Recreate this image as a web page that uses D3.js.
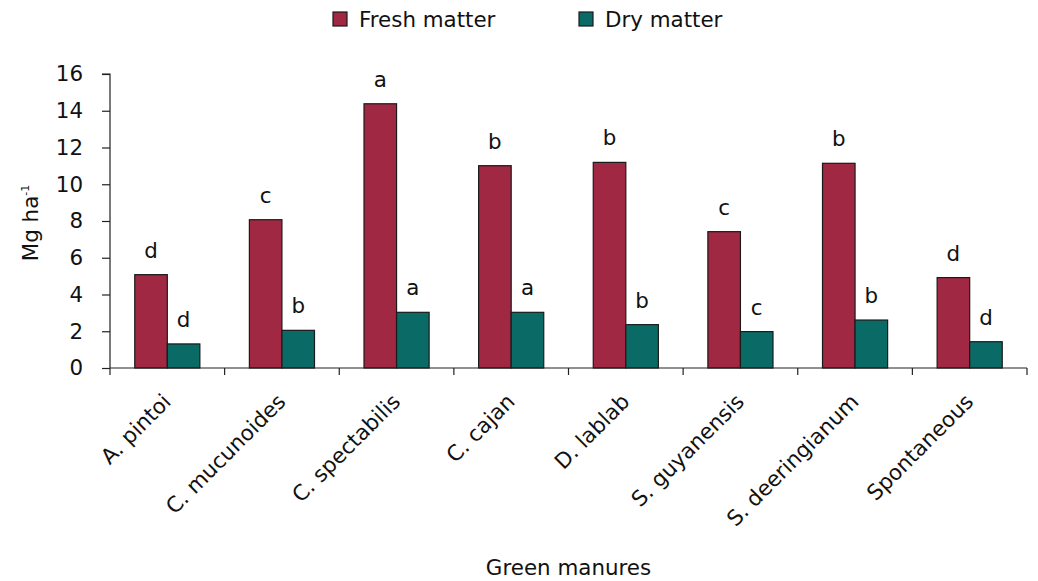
<!DOCTYPE html>
<html><head><meta charset="utf-8">
<script src="https://cdn.jsdelivr.net/npm/d3@7"></script>
<style>body{margin:0;background:#fff}svg{display:block;font-family:"DejaVu Sans",Verdana,sans-serif}</style>
</head><body><svg id="c" width="1038" height="581"></svg>
<script>
const categories = ["A. pintoi","C. mucunoides","C. spectabilis","C. cajan","D. lablab","S. guyanensis","S. deeringianum","Spontaneous"];
const seriesNames = ["Fresh matter","Dry matter"];
const freshValues = [5.08,8.07,14.38,11.01,11.19,7.42,11.14,4.92];
const dryValues = [1.31,2.05,3.03,3.03,2.36,1.98,2.61,1.43];
const freshLetters = ["d","c","a","b","b","c","b","d"];
const dryLetters = ["d","b","a","a","b","c","b","d"];
const yTicks = [0,2,4,6,8,10,12,14,16];
const colors = ["#A02842","#0A6B66"];

const svg = d3.select("#c");
const m = {l:110, r:1027, t:74, b:368};
const x = d3.scaleBand().domain(categories).range([m.l, m.r]).paddingInner(0).paddingOuter(0);
const y = d3.scaleLinear().domain([0,16]).range([m.b, m.t]);
const fs = 21.4;
const bw = x.bandwidth()*0.284;
const xs = d3.scaleBand().domain(seriesNames).range([x.bandwidth()/2 - bw, x.bandwidth()/2 + bw]);

// bars
const data = categories.map((c,i)=>({c, vals:[freshValues[i], dryValues[i]], letters:[freshLetters[i], dryLetters[i]]}));
const g = svg.append("g");
data.forEach(d=>{
  d.vals.forEach((v,j)=>{
    const bx = x(d.c) + xs(seriesNames[j]);
    g.append("rect").attr("x", bx).attr("y", y(v)).attr("width", xs.bandwidth()).attr("height", y(0)-y(v))
      .attr("fill", colors[j]).attr("stroke","#1a1a1a").attr("stroke-width",1.2);
    g.append("text").attr("x", bx + xs.bandwidth()/2).attr("y", y(v) - 17).attr("text-anchor","middle")
      .attr("font-size", fs).attr("fill","#111").text(d.letters[j]);
  });
});

// y axis
const ya = svg.append("g").attr("transform",`translate(${m.l},0)`)
  .call(d3.axisLeft(y).tickValues(yTicks).tickSize(8).tickPadding(19).tickFormat(d3.format("d")));
ya.select(".domain").attr("stroke","#222").attr("stroke-width",1.2).attr("d",`M-8,${m.t}H0V${m.b}`);
ya.selectAll(".tick line").attr("stroke","#222").attr("stroke-width",1.2);
ya.selectAll("text").attr("font-size",fs).attr("fill","#111").attr("font-family","DejaVu Sans");

// x axis
const xa = svg.append("g").attr("transform",`translate(0,${m.b})`);
xa.append("line").attr("x1",m.l).attr("x2",m.r).attr("y1",0).attr("y2",0).attr("stroke","#222").attr("stroke-width",1.2);
const tickPos = categories.map(c=>x(c)).concat([m.r]);
xa.selectAll(".xt").data(tickPos).enter().append("line")
  .attr("x1",d=>d).attr("x2",d=>d).attr("y1",0).attr("y2",7).attr("stroke","#222").attr("stroke-width",1.2);
xa.selectAll(".xl").data(categories).enter().append("text")
  .attr("transform",d=>`translate(${x(d)+x.bandwidth()/2+5},${35}) rotate(-45)`)
  .attr("text-anchor","end").attr("font-size",fs).attr("fill","#111").text(d=>d);

// axis titles
svg.append("text").attr("x",(m.l+m.r)/2).attr("y",575).attr("text-anchor","middle")
  .attr("font-size",fs).attr("fill","#111").text("Green manures");
const yl = svg.append("text").attr("transform",`translate(38,${223}) rotate(-90)`).attr("text-anchor","middle")
  .attr("font-size",fs).attr("fill","#111");
yl.append("tspan").text("Mg ha");
yl.append("tspan").attr("dy",-9).attr("font-size",11).text("-1");

// legend
const leg = svg.append("g");
const legX = [333, 579];
seriesNames.forEach((s,i)=>{
  leg.append("rect").attr("x",legX[i]).attr("y",12).attr("width",14).attr("height",14)
    .attr("fill",colors[i]).attr("stroke","#1a1a1a").attr("stroke-width",1.2);
  leg.append("text").attr("x",legX[i]+26).attr("y",27).attr("font-size",fs).attr("fill","#111").text(s);
});
</script></body></html>
